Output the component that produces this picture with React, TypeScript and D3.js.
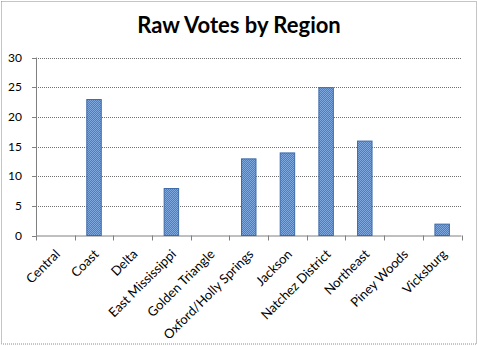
import React from "react";
import * as d3 from "d3";

const categories = ["Central", "Coast", "Delta", "East Mississippi", "Golden Triangle", "Oxford/Holly Springs", "Jackson", "Natchez District", "Northeast", "Piney Woods", "Vicksburg"];
const votes = [0, 23, 0, 8, 0, 13, 14, 25, 16, 0, 2];
const yTicks = [0, 5, 10, 15, 20, 25, 30];
const title = "Raw Votes by Region";

const W = 478, H = 346;
const left = 36, right = 461.5, top = 57.5, bottom = 235.5;

export default function App() {
  const x = d3.scaleBand<string>().domain(categories).range([left, right]).paddingInner(0.6).paddingOuter(0.3);
  const xTick = d3.scaleBand<string>().domain(categories).range([left, right]);
  const y = d3.scaleLinear().domain([0, 30]).range([bottom, top]);
  const font = "Lato, 'Liberation Sans', sans-serif";
  return (
    <svg width={W} height={H} style={{ position: "absolute", left: 0, top: 0, background: "#fff" }}>
      <defs>
        <pattern id="chk" width="2" height="2" patternUnits="userSpaceOnUse">
          <rect width="2" height="2" fill="#4a7ec0" />
          <rect width="1" height="1" fill="#7fa8de" />
          <rect x="1" y="1" width="1" height="1" fill="#7fa8de" />
        </pattern>
      </defs>
      <rect x={1.5} y={1.5} width={475} height={342.5} fill="#fff" stroke="#8a8a8a" strokeDasharray="1,1" />
      <text x={239} y={33} textAnchor="middle" fontFamily={font} fontWeight="bold" fontSize={22} fill="#000">{title}</text>
      {yTicks.map((t) => (
        <g key={t}>
          {t > 0 && <line x1={left} x2={right} y1={Math.round(y(t)) + 0.5} y2={Math.round(y(t)) + 0.5} stroke="#707070" strokeDasharray="1,1" />}
          <line x1={left - 4} x2={left} y1={Math.round(y(t)) + 0.5} y2={Math.round(y(t)) + 0.5} stroke="#808080" />
          <text x={22} y={y(t) + 4} textAnchor="end" fontFamily={font} fontSize={12} fill="#000">{t}</text>
        </g>
      ))}
      <line x1={left + 0.5} x2={left + 0.5} y1={top} y2={bottom} stroke="#808080" />
      <line x1={left} x2={right} y1={bottom + 0.5} y2={bottom + 0.5} stroke="#808080" />
      {categories.map((c) => (
        <line key={"t" + c} x1={Math.round(xTick(c)!) + 0.5} x2={Math.round(xTick(c)!) + 0.5} y1={bottom} y2={bottom + 5} stroke="#808080" />
      ))}
      <line x1={Math.round(right) + 0.5} x2={Math.round(right) + 0.5} y1={bottom} y2={bottom + 5} stroke="#808080" />
      {categories.map((c, i) => votes[i] > 0 && (
        <rect key={"b" + c} x={x(c)! + 0.5} y={y(votes[i]) + 0.5} width={x.bandwidth() - 1} height={bottom - y(votes[i]) - 0.5} fill="url(#chk)" stroke="#3c69a8" strokeWidth={1} />
      ))}
      {categories.map((c) => {
        const cx = xTick(c)! + xTick.bandwidth() / 2 + 5.5;
        const cy = 255;
        return (
          <text key={"l" + c} transform={`translate(${cx},${cy}) rotate(-45)`} textAnchor="end" fontFamily={font} fontSize={13} fill="#000">{c}</text>
        );
      })}
    </svg>
  );
}
